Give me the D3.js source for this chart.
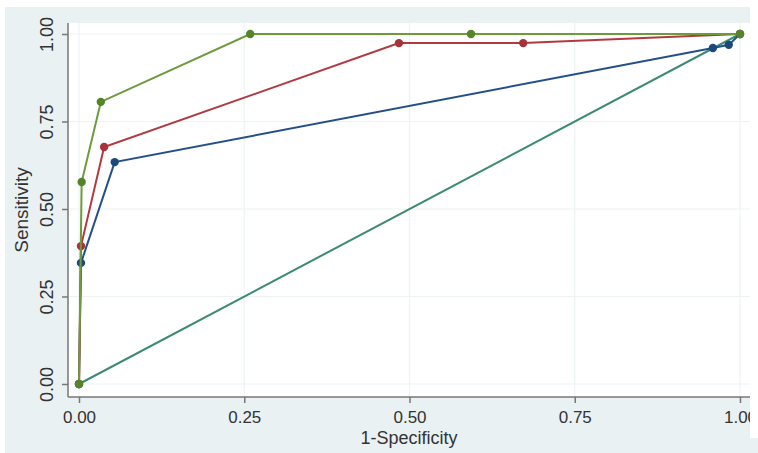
<!DOCTYPE html>
<html>
<head>
<meta charset="utf-8" />
<script src="https://cdn.jsdelivr.net/npm/d3@7"></script>
<style>
body { margin: 0; background: #fff; }
text { font-family: "Liberation Sans", Arial, sans-serif; fill: #333; }
</style>
</head>
<body>
<svg id="chart" width="758" height="453"></svg>
<script>
// ROC points (1-specificity, sensitivity)
var greenX = [0, 0.004, 0.033, 0.259, 0.593, 1];
var greenY = [0, 0.577, 0.806, 1, 1, 1];
var redX = [0, 0.003, 0.038, 0.484, 0.672, 1];
var redY = [0, 0.394, 0.677, 0.974, 0.974, 1];
var blueX = [0, 0.003, 0.054, 0.959, 0.983, 1];
var blueY = [0, 0.346, 0.634, 0.96, 0.969, 1];
var refX = [0, 1];
var refY = [0, 1];
var ticks = [0, 0.25, 0.5, 0.75, 1];

var svg = d3.select("#chart");

// outer grey-blue frame
svg.append("rect").attr("x", 5).attr("y", 7).attr("width", 753).attr("height", 446).attr("fill", "#eaf1f2");
// plot area
svg.append("rect").attr("x", 68).attr("y", 23).attr("width", 690).attr("height", 374).attr("fill", "#fff");

var x = d3.scaleLinear().domain([0, 1]).range([79, 740]);
var y = d3.scaleLinear().domain([0, 1]).range([384, 34]);

// grid
svg.append("g").selectAll("line").data(ticks).join("line")
  .attr("x1", 68).attr("x2", 750)
  .attr("y1", d => y(d)).attr("y2", d => y(d))
  .attr("stroke", "#edf3f3").attr("stroke-width", 1.2);
svg.append("g").selectAll("line").data(ticks).join("line")
  .attr("y1", 23).attr("y2", 397)
  .attr("x1", d => x(d)).attr("x2", d => x(d))
  .attr("stroke", "#edf3f3").attr("stroke-width", 1.2);

// axes
var xAxis = svg.append("g").attr("transform", "translate(0,397)")
  .call(d3.axisBottom(x).tickValues(ticks).tickFormat(d3.format(".2f")).tickSize(6).tickSizeOuter(0));
xAxis.select(".domain").attr("d", "M68,0H750");
xAxis.selectAll("text").attr("font-size", 17).attr("dy", null).attr("y", 26);

var yAxis = svg.append("g").attr("transform", "translate(68,0)")
  .call(d3.axisLeft(y).tickValues(ticks).tickFormat(d3.format(".2f")).tickSize(6).tickSizeOuter(0));
yAxis.select(".domain").attr("d", "M0,23V397");
yAxis.selectAll("text")
  .attr("font-size", 18)
  .attr("text-anchor", "middle")
  .attr("dy", null)
  .attr("x", null).attr("y", null)
  .attr("transform", "translate(-15,0) rotate(-90)");

svg.selectAll(".domain, .tick line").attr("stroke", "#777").attr("stroke-width", 1.5);
svg.selectAll(".tick text").attr("fill", "#333").style("font-family", "Liberation Sans, Arial, sans-serif");

// axis titles
svg.append("text").attr("x", 409).attr("y", 444).attr("text-anchor", "middle")
  .attr("font-size", 18).text("1-Specificity");
svg.append("text").attr("transform", "translate(28,210) rotate(-90)").attr("text-anchor", "middle")
  .attr("font-size", 19).text("Sensitivity");

var line = d3.line().x(d => x(d[0])).y(d => y(d[1]));

function series(xs, ys, color, dotColor, markers) {
  var pts = xs.map((v, i) => [v, ys[i]]);
  svg.append("path").datum(pts).attr("d", line)
    .attr("fill", "none").attr("stroke", color).attr("stroke-width", 2);
  if (markers) {
    svg.append("g").selectAll("circle").data(pts).join("circle")
      .attr("cx", d => x(d[0])).attr("cy", d => y(d[1])).attr("r", 4.2)
      .attr("fill", dotColor);
  }
}

series(refX, refY, "#3b8a72", "#3b8a72", false);
series(blueX, blueY, "#24508a", "#1b4a7a", true);
series(redX, redY, "#b03a40", "#a8323a", true);
series(greenX, greenY, "#6e9a3c", "#55852a", true);

// white strip on the right edge, as in the cropped original
svg.append("rect").attr("x", 750).attr("y", 0).attr("width", 8).attr("height", 438).attr("fill", "#fff");
</script>
</body>
</html>
